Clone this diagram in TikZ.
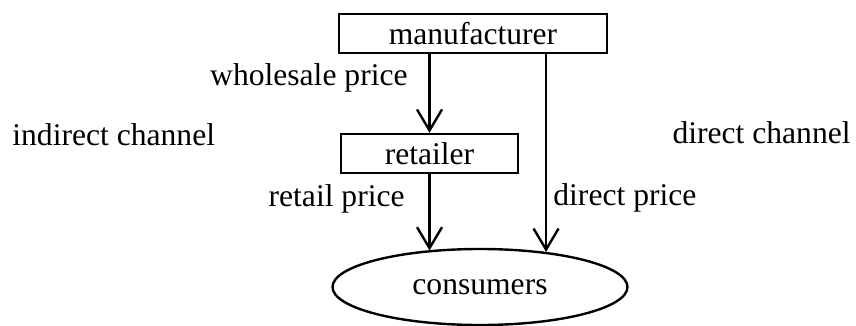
\documentclass[tikz,border=0pt]{standalone}
\usepackage{fontspec}
\setmainfont{Liberation Serif}
\usepackage{tikz}
\usetikzlibrary{positioning, arrows.meta, shapes, shapes.geometric}
\tikzset{chanfont/.style={font=\fontsize{15.8}{19}\selectfont}}
\tikzset{firm/.style={draw, line width=1.2pt, inner sep=0pt, minimum height=19.5pt, chanfont}}
\tikzset{market/.style={draw, ellipse, line width=1.2pt, inner sep=0pt, minimum width=147.5pt, minimum height=38pt, chanfont}}
\tikzset{lbl/.style={inner sep=0pt, chanfont}}
\tikzset{arr/.style={draw, line width=1.2pt, -{Straight Barb[length=10.5pt, width=12.5pt]}}}

\begin{document}
\begin{tikzpicture}[x=0.5pt, y=-0.5pt]
	\useasboundingbox (0, 0) rectangle (856, 326);

	\node[firm, minimum width=134pt] (manu) at (473, 33.5) {manufacturer};
	\node[firm, minimum width=88.5pt] (retail) at (429.5, 153.5) {retailer};
	\node[market] (cons) at (480, 287) {consumers};

	% indirect route through the retailer, direct route beside it
	\draw[arr] (manu.south -| retail) -- (retail);
	\draw[arr] (retail) -- (retail |- cons.146);
	\draw[arr] (cons.28 |- manu.south) -- (cons.28);

	\node[lbl, anchor=base east] (wsp) at (408, 86) {wholesale price};
	\node[lbl, anchor=base east] (rp) at (405, 206) {retail price};
	\node[lbl, anchor=base west] (dp) at (553, 205) {direct price};
	\node[lbl, anchor=base west] (ich) at (12, 145) {indirect channel};
	\node[lbl, anchor=base east] (dch) at (851, 143) {direct channel};
\end{tikzpicture}
\end{document}
